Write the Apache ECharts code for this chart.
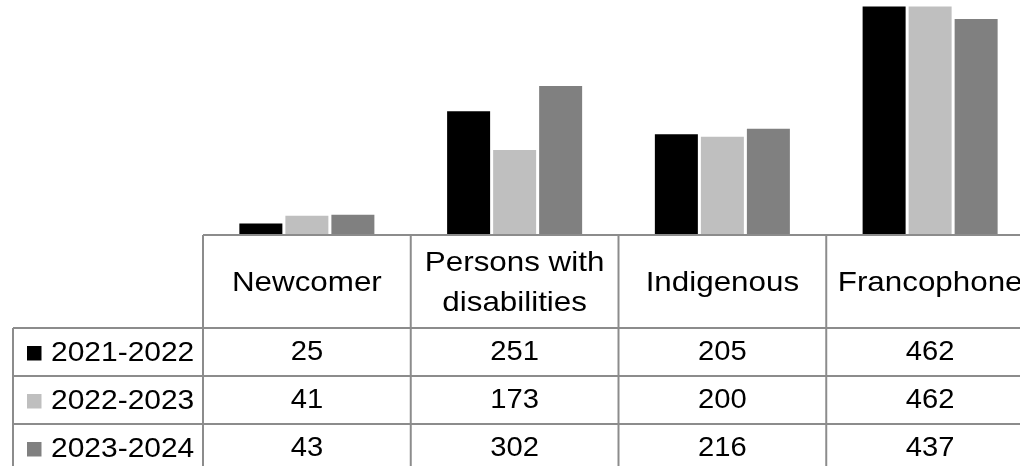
<!DOCTYPE html>
<html>
<head>
<meta charset="utf-8">
<script src="https://cdn.jsdelivr.net/npm/echarts@6/dist/echarts.min.js"></script>
<style>
html,body{margin:0;padding:0;background:#fff;overflow:hidden;width:1020px;height:466px;}
#chart{width:1035px;height:466px;}
</style>
</head>
<body>
<div id="chart"></div>
<script>
const categories = ['Newcomer', 'Persons with\ndisabilities', 'Indigenous', 'Francophone'];
const seriesNames = ['2021-2022', '2022-2023', '2023-2024'];
const values2021 = [25, 251, 205, 462];
const values2022 = [41, 173, 200, 462];
const values2023 = [43, 302, 216, 437];
const seriesColors = ['#000000', '#bfbfbf', '#808080'];

const allValues = [values2021, values2022, values2023];
const FONT = 'Liberation Sans, Arial, sans-serif';
const LINE = '#8c8c8c';

const chart = echarts.init(document.getElementById('chart'), null, {renderer: 'canvas'});

const gridLeft = 203, gridRight = 1, gridTop = 0, gridHeight = 236;

chart.setOption({
  backgroundColor: '#ffffff',
  animation: false,
  grid: {left: gridLeft, right: gridRight, top: gridTop, height: gridHeight},
  xAxis: {
    type: 'category', data: categories,
    axisLine: {show: false}, axisTick: {show: false}, axisLabel: {show: false}
  },
  yAxis: {
    type: 'value', min: 0, max: 475,
    show: false, splitLine: {show: false}
  },
  series: seriesNames.map((name, i) => ({
    name: name, type: 'bar', data: allValues[i],
    barWidth: 43, barGap: '7%',
    itemStyle: {color: seriesColors[i]}
  }))
});

// Build data table under the plot from the arrays
const c0 = chart.convertToPixel({xAxisIndex: 0}, 0);
const c1 = chart.convertToPixel({xAxisIndex: 0}, 1);
const band = c1 - c0;
const tableTop = 235;
const headerBottom = 328;
const rowH = 48;
const bottom = 466;
const rightEdge = 1035;
const g = [];

function hline(x1, x2, y) {
  g.push({type: 'line', shape: {x1: x1, y1: y, x2: x2, y2: y}, style: {stroke: LINE, lineWidth: 2}, z: 10});
}
function vline(x, y1, y2) {
  g.push({type: 'line', shape: {x1: x, y1: y1, x2: x, y2: y2}, style: {stroke: LINE, lineWidth: 2}, z: 10});
}
function txt(t, x, y, size, align, sx) {
  g.push({
    type: 'text', x: x, y: y, scaleX: sx, scaleY: 1, z: 11,
    style: {text: t, x: 0, y: 0, fill: '#000', font: size + 'px ' + FONT,
      textAlign: align, textVerticalAlign: 'middle', lineHeight: 40}
  });
}

hline(c0 - band / 2, rightEdge, tableTop);
for (let r = 0; r <= seriesNames.length; r++) {
  hline(13, rightEdge, headerBottom + r * rowH);
}
vline(13, headerBottom, bottom);
for (let c = 0; c <= categories.length; c++) {
  vline(c0 - band / 2 + c * band, tableTop, bottom);
}

categories.forEach((cat, c) => {
  const cx = chart.convertToPixel({xAxisIndex: 0}, c);
  txt(cat, cx, 283, 28, 'center', 1.12);
  seriesNames.forEach((s, r) => {
    const cy = headerBottom + r * rowH + rowH / 2 + 1;
    txt(String(allValues[r][c]), cx, cy, 27, 'center', 1.08);
  });
});

seriesNames.forEach((s, r) => {
  const cy = headerBottom + r * rowH + rowH / 2 + 1;
  g.push({type: 'rect', shape: {x: 27, y: cy - 7, width: 14.5, height: 14.5}, style: {fill: seriesColors[r]}, z: 11});
  txt(s, 51, cy, 28, 'left', 1.07);
});

chart.setOption({graphic: g});
</script>
</body>
</html>
